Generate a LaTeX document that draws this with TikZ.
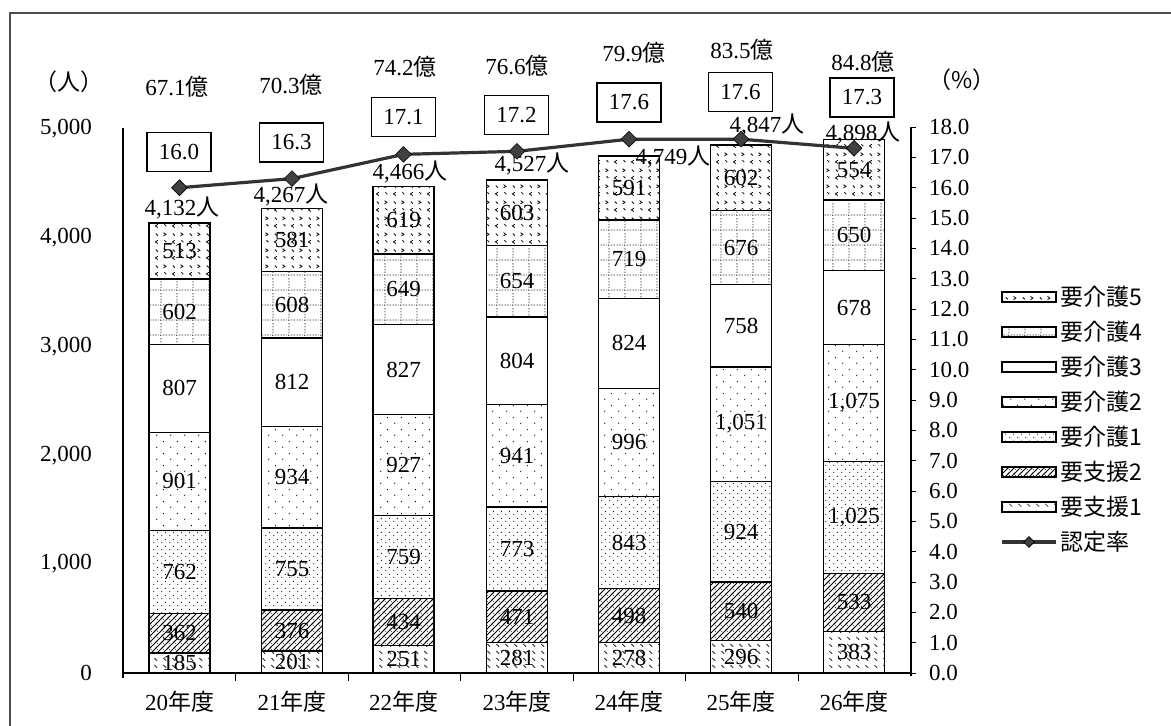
\documentclass[tikz,border=0pt]{standalone}
\usepackage{fontspec}
\setmainfont{Liberation Serif}
\newfontfamily\jp{Noto Sans CJK JP}
\usetikzlibrary{patterns,shapes.geometric}

% 要支援1
\pgfdeclarepatternformonly{pSa}{\pgfpoint{0pt}{0pt}}{\pgfpoint{9pt}{7pt}}{\pgfpoint{9pt}{7pt}}{%
  \pgfsetlinewidth{0.7pt}%
  \pgfpathmoveto{\pgfpoint{1.5pt}{5.5pt}}\pgfpathlineto{\pgfpoint{4.5pt}{2.5pt}}%
  \pgfusepath{stroke}}
% 要支援2
\pgfdeclarepatternformonly{pSb}{\pgfpoint{-1pt}{-1pt}}{\pgfpoint{7pt}{7pt}}{\pgfpoint{6pt}{6pt}}{%
  \pgfsetlinewidth{0.8pt}%
  \pgfpathmoveto{\pgfpoint{-1pt}{-1pt}}\pgfpathlineto{\pgfpoint{7pt}{7pt}}%
  \pgfusepath{stroke}%
  \pgfpathcircle{\pgfpoint{1.5pt}{4.5pt}}{0.4pt}\pgfusepath{fill}}
% 要介護1
\pgfdeclarepatternformonly{pCa}{\pgfpoint{0pt}{0pt}}{\pgfpoint{8pt}{7pt}}{\pgfpoint{8pt}{7pt}}{%
  \pgfpathcircle{\pgfpoint{2pt}{1.75pt}}{0.65pt}%
  \pgfpathcircle{\pgfpoint{6pt}{5.25pt}}{0.65pt}%
  \pgfusepath{fill}}
% 要介護2
\pgfdeclarepatternformonly{pCb}{\pgfpoint{0pt}{0pt}}{\pgfpoint{14pt}{12pt}}{\pgfpoint{14pt}{12pt}}{%
  \pgfpathcircle{\pgfpoint{3pt}{3pt}}{0.7pt}%
  \pgfpathcircle{\pgfpoint{10pt}{9pt}}{0.7pt}%
  \pgfusepath{fill}}
% 要介護4
\pgfdeclarepatternformonly{pCd}{\pgfpoint{0pt}{0pt}}{\pgfpoint{16pt}{15pt}}{\pgfpoint{16pt}{15pt}}{%
  \pgfsetlinewidth{0.7pt}%
  \pgfsetdash{{1.5pt}{1.5pt}}{0pt}%
  \pgfpathmoveto{\pgfpoint{0pt}{1pt}}\pgfpathlineto{\pgfpoint{16pt}{1pt}}%
  \pgfpathmoveto{\pgfpoint{1pt}{0pt}}\pgfpathlineto{\pgfpoint{1pt}{15pt}}%
  \pgfusepath{stroke}}
% 要介護5
\pgfdeclarepatternformonly{pCe}{\pgfpoint{0pt}{0pt}}{\pgfpoint{17pt}{16pt}}{\pgfpoint{17pt}{16pt}}{%
  \pgfsetlinewidth{0.8pt}%
  \pgfpathmoveto{\pgfpoint{5pt}{6pt}}\pgfpathlineto{\pgfpoint{2.5pt}{4.3pt}}\pgfpathlineto{\pgfpoint{5pt}{2.6pt}}%
  \pgfpathmoveto{\pgfpoint{11pt}{14pt}}\pgfpathlineto{\pgfpoint{13.5pt}{12.3pt}}\pgfpathlineto{\pgfpoint{11pt}{10.6pt}}%
  \pgfpathmoveto{\pgfpoint{12pt}{6pt}}\pgfpathlineto{\pgfpoint{14pt}{4pt}}%
  \pgfpathmoveto{\pgfpoint{3pt}{13pt}}\pgfpathlineto{\pgfpoint{5pt}{11pt}}%
  \pgfusepath{stroke}}

\tikzset{
  lbl/.style={font=\fontsize{23}{26}\selectfont, inner sep=0pt},
  barline/.style={draw=black, line width=1.4pt},
  ratebox/.style={draw=black, line width=1.6pt, minimum width=64pt, minimum height=39pt, inner sep=0pt, font=\fontsize{23}{26}\selectfont},
  ratemk/.style={shape=diamond, minimum width=16pt, minimum height=16pt, inner sep=0pt, fill=black!75, draw=black, line width=0.6pt},
  rateline/.style={draw=black!80, line width=3.2pt},
  axisline/.style={draw=black, line width=1.2pt},
  st1/.style={pattern=pSa},
  st2/.style={pattern=pSb},
  st3/.style={pattern=pCa},
  st4/.style={pattern=pCb},
  st5/.style={fill=white},
  st6/.style={pattern=pCd, pattern color=black!85},
  st7/.style={pattern=pCe},
}
\def\sc{0.1089}
\def\rs{30.33}
\newcommand\fmtnum[1]{\ifnum#1>999 \pgfmathtruncatemacro\thou{#1/1000}\pgfmathtruncatemacro\rmd{mod(#1,1000)}\thou,\ifnum\rmd<100 0\fi\ifnum\rmd<10 0\fi\rmd\else#1\fi}

\begin{document}
\begin{tikzpicture}[x=1pt,y=-1pt]
\useasboundingbox (0,0) rectangle (1171,726);
\begin{scope}
  \clip (0,0) rectangle (1171,726);
  \draw[black!70, line width=2pt] (10,13) rectangle (1200,760);
\end{scope}

% axes
\draw[axisline] (123,128) -- (123,678);
\draw[axisline] (911,127) -- (911,676);
\draw[axisline] (123,673) -- (911,673);
\foreach \k in {1,...,6} \draw[line width=1pt] ({123+112.57*\k},673) -- ++(0,8);

% left labels
\foreach \v/\t [count=\n] in {0/0, 1000/{1,000}, 2000/{2,000}, 3000/{3,000}, 4000/{4,000}, 5000/{5,000}}
  \node[lbl, anchor=east] (yl\n) at (92,{673-\v*\sc}) {\t};
% right labels
\foreach \k in {0,...,18}{
  \draw[line width=0.8pt] (911,{673-\k*\rs}) -- ++(5,0);
  \node[lbl, anchor=west] (rl\k) at (929,{673-\k*\rs}) {\k.0};
}
\node[lbl] (unitL) at (69,82) {\jp （人）};
\node[lbl] (unitR) at (962,80) {\jp （\%）};

% bars
\foreach \cx/\vals [count=\b] in {179.5/{185,362,762,901,807,602,513}, 292/{201,376,755,934,812,608,581}, 403.5/{251,434,759,927,827,649,619}, 517/{281,471,773,941,804,654,603}, 629/{278,498,843,996,824,719,591}, 741/{296,540,924,1051,758,676,602}, 854/{383,533,1025,1075,678,650,554}}{
  \gdef\cum{0}
  \foreach \v [count=\k] in \vals {
    \pgfmathsetmacro\lo{673-\cum*\sc}
    \pgfmathsetmacro\hi{673-(\cum+\v)*\sc}
    \pgfmathsetmacro\newcum{\cum+\v}
    \xdef\cum{\newcum}
    \path[st\k] (\cx-30.5,\lo) rectangle (\cx+30.5,\hi);
    \draw[barline] (\cx-30.5,\lo) rectangle (\cx+30.5,\hi);
    \node[lbl] (v\b-\k) at (\cx,{(\lo+\hi)/2}) {\fmtnum{\v}};
  }
}

% category labels
\foreach \cx/\t [count=\n] in {179.5/20, 292/21, 403.5/22, 517/23, 629/24, 741/25, 854/26}
  \node[lbl] (cat\n) at (\cx,702) {\t{\jp 年度}};

% totals
\foreach \x/\y/\t [count=\n] in {182/208/{4,132}, 291/195/{4,267}, 410/172/{4,466}, 532/164/{4,527}, 673/157/{4,749}, 767/125/{4,847}, 863/133/{4,898}}
  \node[lbl] (tot\n) at (\x,\y) {\t{\jp 人}};

% rate boxes and cost labels
\foreach \x/\y/\r/\ox/\oy/\o [count=\n] in {179/152/16.0/177/87/67.1, 291.5/142.5/16.3/291/85/70.3, 403.5/117/17.1/405/67/74.2, 516.5/115/17.2/517/66/76.6, 629/102.5/17.6/634/53/79.9, 740.5/92/17.6/742/50/83.5, 862/97.5/17.3/863/62/84.8}{
  \node[ratebox] (rb\n) at (\x,\y) {\r};
  \node[lbl] (ok\n) at (\ox,\oy) {\o{\jp 億}};
}

% rate line
\foreach \x/\r [count=\n] in {179.5/16.0, 292/16.3, 403.5/17.1, 517/17.2, 629/17.6, 741/17.6, 854/17.3}
  \coordinate (p\n) at (\x,{673-\r*\rs});
\draw[rateline] (p1) -- (p2) -- (p3) -- (p4) -- (p5) -- (p6) -- (p7);
\foreach \n in {1,...,7} \node[ratemk] (m\n) at (p\n) {};

% legend
\foreach \lab [count=\n] in {要介護5, 要介護4, 要介護3, 要介護2, 要介護1, 要支援2, 要支援1}{
  \pgfmathsetmacro\yy{297+35*(\n-1)}
  \pgfmathtruncatemacro\sk{8-\n}
  \path[st\sk] (1002,\yy-5) rectangle (1056,\yy+5);
  \draw[line width=1.3pt] (1002,\yy-5) rectangle (1056,\yy+5);
  \node[lbl, anchor=west] (lg\n) at (1060,\yy) {\jp\lab};
}
\coordinate (la) at (1002,542);
\coordinate (lb) at (1056,542);
\draw[rateline] (la) -- (lb);
\node[ratemk, minimum width=11pt, minimum height=11pt] (lgm) at (1029,542) {};
\node[lbl, anchor=west] (lg8) at (1060,542) {\jp 認定率};
\end{tikzpicture}
\end{document}
